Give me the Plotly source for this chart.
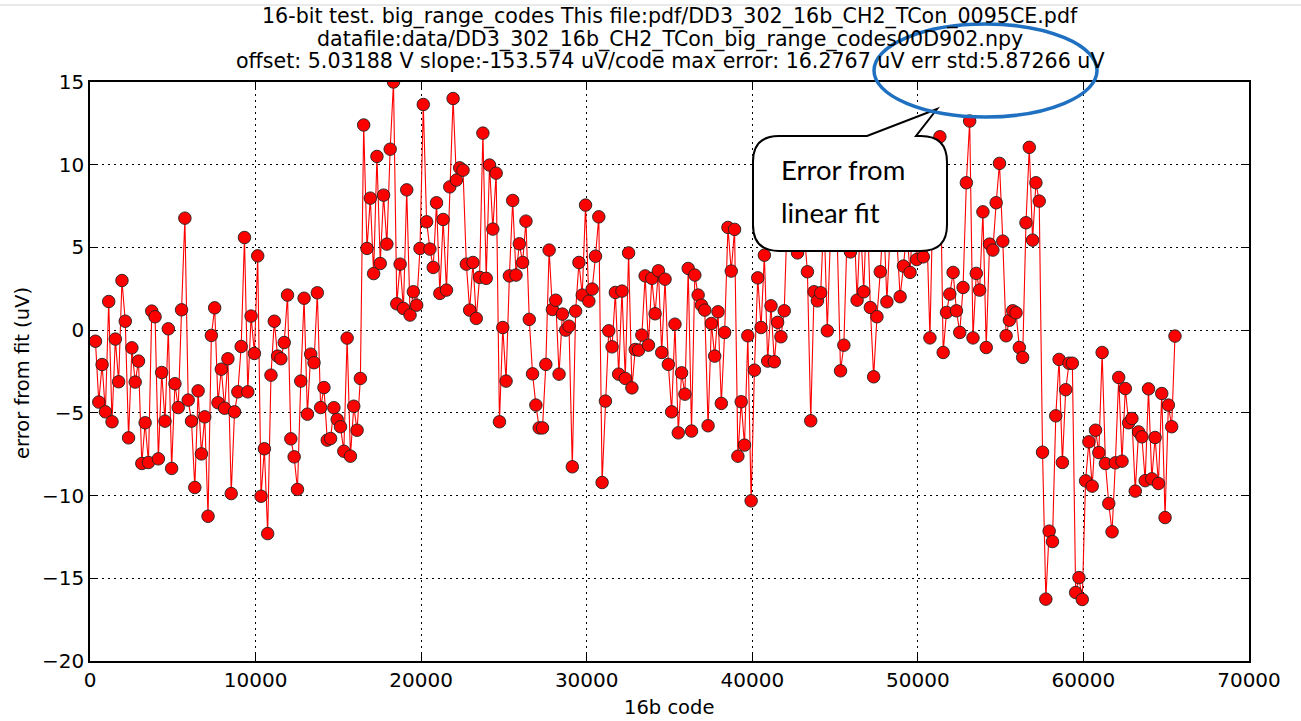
import plotly.graph_objects as go

# ---------------- data ----------------
code_start = 330
code_step = 200

err_a = [-0.67, -4.35, -2.08, -4.94, 1.73, -5.54, -0.54, -3.12, 3.0, 0.54,
         -6.51, -1.07, -3.14, -1.87, -8.06, -5.6, -8.0, 1.15, 0.81, -7.78,
         -2.56, -5.5, 0.08, -8.36, -3.24, -4.68, 1.23, 6.77, -4.23, -5.5,
         -9.51, -3.67, -7.48, -5.24, -11.25, -0.32, 1.35, -4.39, -2.36, -4.72,
         -1.73, -9.88, -4.94, -3.73, -0.99, 5.6, -3.73, 0.85, -1.41, 4.49,
         -10.04, -7.17, -12.3, -2.72, 0.54, -1.57, -1.73, -0.75, 2.12, -6.57,
         -7.66, -9.63, -3.08, 1.93, -5.08, -1.45, -1.97, 2.26, -4.68, -3.47,
         -6.65, -6.55, -4.69, -5.4, -5.84, -7.32, -0.48, -7.62, -4.6, -6.05,
         -2.92]
err_b = [12.4, 4.94, 7.98, 3.42, 10.5, 4.03, 8.16, 5.2, 10.94, 15.0,
         1.59, 3.99, 1.31, 8.48, 0.91, 2.32, 1.51, 4.94, 13.64, 6.55,
         4.9, 3.79, 7.7, 2.22, 6.69, 2.42, 8.66, 14.0, 9.07, 9.81,
         9.67, 3.99, 1.21, 4.09, 0.71, 3.19, 11.91, 3.13, 9.98, 6.11,
         9.49, -5.54, 0.16, -3.08, 3.28, 7.84, 3.33, 5.22, 4.09, 6.59,
         0.65, -2.64, -4.53, -5.91, -5.91, -2.07, 4.84, 1.25, 1.81, -2.66,
         0.97, 0.0, 0.24, -8.26, 1.15, 4.09, 2.12, 7.56, 1.75, 2.48,
         4.47, 6.85, -9.21, -4.29, -0.04, -1.01, 2.28, -2.66, 2.36, -2.92,
         4.67, -3.49, -1.17, -1.21, -0.3, 3.28, -0.91, 3.13, 0.99, 3.59,
         -1.35, 3.08, -2.07, -4.94, 0.36, -6.21, -2.58, -3.87, 3.73, -6.1,
         3.33, 2.12]
err_c = [1.51, 1.21, -5.78, 0.4, -1.57, 1.11, -4.43, -0.14, 6.21, 3.57,
         6.09, -7.62, -4.33, -6.95, -0.34, -10.32, -2.42, 3.16, 0.16, 4.53,
         -1.87, 1.47, -1.91, 0.47, -0.4, 1.17, 7.5, 5.5, 9.0, 4.67,
         8.0, 6.0, 3.53, -5.48, 2.32, 1.77, 2.26, 7.0, -0.04, 6.0,
         9.0, 5.5, -2.46, -0.91, 6.0, 4.73, 7.0, 1.81, 6.5, 2.32,
         8.0, 1.37, -2.82, 0.81, 3.53, 7.0, 1.71, 6.0, 8.5, 5.5,
         2.02, 3.87, 6.0, 3.49, 7.5, 4.27, 5.5, 4.43, 6.5, -0.47,
         9.0, 6.0, 11.69, -1.35, 1.07, 2.18, 3.49, 1.17, -0.14, 2.58,
         8.91, 12.64, -0.47, 3.43, 2.42, 7.15, -1.05, 5.2, 4.84, 7.7,
         10.08, 5.38, -0.34, 0.6, 1.17, 1.05, -1.05, -1.65, 6.49, 11.05,
         5.44, 8.91, 7.8]
err_d = [-7.38, -16.26, -12.15, -12.78, -5.18, -1.77, -8.0, -3.6, -2.0, -2.0,
         -15.86, -14.96, -16.28, -9.11, -6.75, -9.43, -6.05, -7.4, -1.35, -8.06,
         -10.48, -12.19, -8.02, -2.86, -7.92, -3.53, -5.6, -5.34, -9.73, -6.15,
         -6.45, -9.1, -3.55, -8.99, -6.49, -9.27, -3.83, -11.33, -4.53, -5.84,
         -0.36]

errors = err_a + err_b + err_c + err_d
codes = [code_start + code_step * i for i in range(len(errors))]

x_ticks = [0, 10000, 20000, 30000, 40000, 50000, 60000, 70000]
y_ticks = [-20, -15, -10, -5, 0, 5, 10, 15]

title_lines = [
    "16-bit test. big_range_codes This file:pdf/DD3_302_16b_CH2_TCon_0095CE.pdf",
    "datafile:data/DD3_302_16b_CH2_TCon_big_range_codes00D902.npy",
    "offset: 5.03188 V slope:-153.574 uV/code max error: 16.2767 uV err std:5.87266 uV",
]
callout_lines = ["Error from", "linear fit"]

# ---------------- layout geometry ----------------
W, H = 1301, 721
L, R, T, B = 90, 1249, 82, 661


def px(x):
    return (x - L) / (R - L)


def py(y):
    return (B - y) / (B - T)


fig = go.Figure()
fig.add_trace(go.Scatter(
    x=codes, y=errors, mode="lines+markers",
    line=dict(color="#ff0000", width=1.1),
    marker=dict(size=12.5, color="#ff0000", line=dict(color="#202020", width=0.9)),
    showlegend=False, hoverinfo="x+y",
))

axis_common = dict(
    showline=True, linecolor="black", linewidth=1.6, mirror="ticks",
    ticks="inside", ticklen=8, tickwidth=1, tickcolor="black",
    showgrid=True, gridcolor="black", gridwidth=1, griddash="2px,4px",
    zeroline=False,
    tickfont=dict(family="DejaVu Sans", size=20, color="black"),
)

fig.update_layout(
    width=W, height=H,
    margin=dict(l=L, r=W - R, t=T, b=H - B),
    paper_bgcolor="white", plot_bgcolor="white",
    xaxis=dict(range=[0, 70000], tickvals=x_ticks, tickformat="d", **axis_common),
    yaxis=dict(range=[-20, 15], tickvals=y_ticks, **axis_common),
    font=dict(family="DejaVu Sans", color="black"),
)

annotations = []
for ln, yc in zip(title_lines, [17, 39, 61]):
    annotations.append(dict(
        text=ln, xref="paper", yref="paper", x=px(670), y=py(yc),
        xanchor="center", yanchor="middle", showarrow=False,
        font=dict(family="DejaVu Sans", size=20.6, color="black"),
    ))
annotations.append(dict(
    text="16b code", xref="paper", yref="paper", x=px(669), y=py(707),
    xanchor="center", yanchor="middle", showarrow=False,
    font=dict(family="DejaVu Sans", size=19.5, color="black"),
))
annotations.append(dict(
    text="error from fit (uV)", xref="paper", yref="paper", x=px(22), y=py(373),
    xanchor="center", yanchor="middle", showarrow=False, textangle=-90,
    font=dict(family="DejaVu Sans", size=19.5, color="black"),
))

# callout shape
bl, br, bt, bb, rr = 753, 947, 136, 251, 26
pts = [
    ("M", bl + rr, bt), ("L", 867, bt), ("L", 937, 109), ("L", 916, bt),
    ("L", br - rr, bt), ("Q", br, bt, br, bt + rr), ("L", br, bb - rr),
    ("Q", br, bb, br - rr, bb), ("L", bl + rr, bb), ("Q", bl, bb, bl, bb - rr),
    ("L", bl, bt + rr), ("Q", bl, bt, bl + rr, bt),
]
path = ""
for p in pts:
    cmd = p[0]
    coords = p[1:]
    s = []
    for k in range(0, len(coords), 2):
        s.append(f"{px(coords[k]):.5f},{py(coords[k+1]):.5f}")
    path += cmd + " " + " ".join(s) + " "
path += "Z"

shapes = [
    dict(type="line", xref="paper", yref="paper",
         x0=px(0), x1=px(W), y0=py(5), y1=py(5),
         line=dict(color="#d4d4d4", width=1), layer="below"),
    dict(type="path", path=path, xref="paper", yref="paper",
         fillcolor="white", line=dict(color="black", width=2), layer="above"),
    dict(type="circle", xref="paper", yref="paper",
         x0=px(874), x1=px(1097), y0=py(117), y1=py(24),
         line=dict(color="#1f70c0", width=3.5), layer="above"),
]

for ln, yc in zip(callout_lines, [169, 213]):
    annotations.append(dict(
        text=ln, xref="paper", yref="paper", x=px(779), y=py(yc),
        xanchor="left", yanchor="middle", showarrow=False,
        font=dict(family="Lato", size=27.5, color="black"),
    ))

fig.update_layout(annotations=annotations, shapes=shapes)
fig.write_html(
    "out.html",
    config={"displayModeBar": False},
    post_script="document.body.style.margin='0px';document.body.style.padding='0px';",
)
